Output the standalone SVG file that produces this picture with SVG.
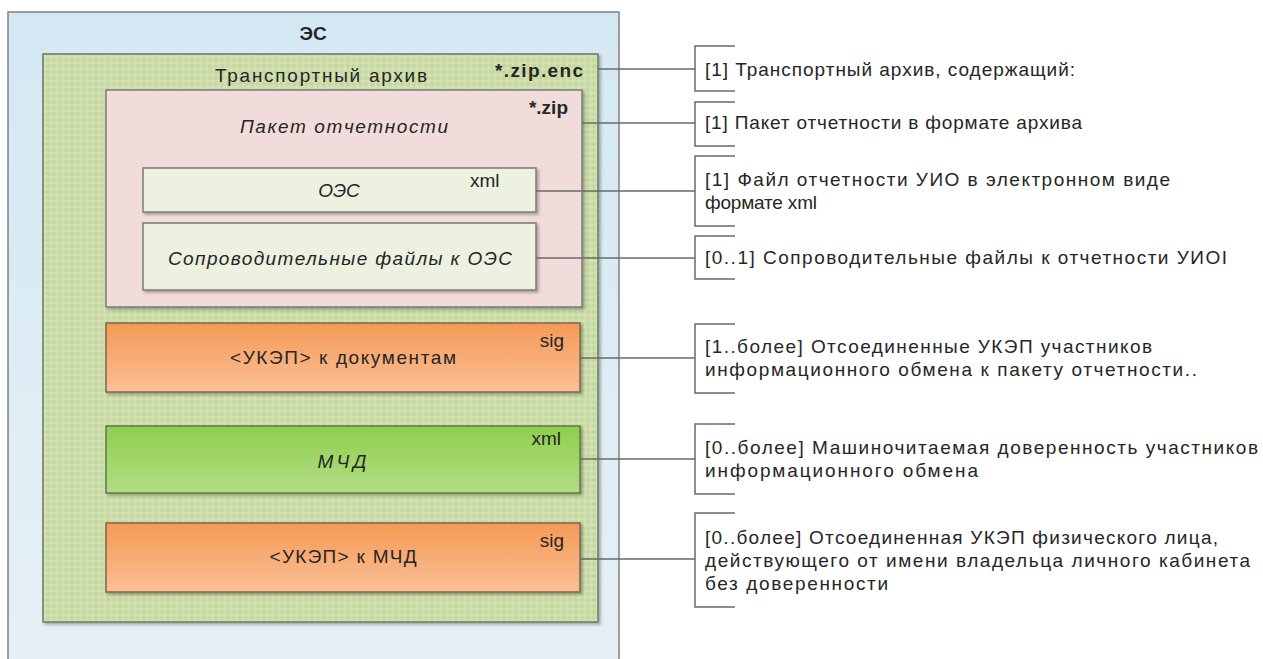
<svg xmlns="http://www.w3.org/2000/svg" width="1263" height="659" viewBox="0 0 1263 659">
<style>
text{font-family:"Liberation Sans",Arial,sans-serif;fill:#262626;font-size:19px}
.b{font-weight:bold}
.i{font-style:italic}
.m{text-anchor:middle}
.e{text-anchor:end}
.conn{stroke:#6a6a6a;stroke-width:1.5;fill:none}
.br{stroke:#6a6a6a;stroke-width:1.5;fill:none}
</style>
<defs>
<linearGradient id="gBlue" x1="0" y1="0" x2="0" y2="1"><stop offset="0" stop-color="#d4e8f3"/><stop offset="1" stop-color="#e6f0f6"/></linearGradient>
<linearGradient id="gOr" x1="0" y1="0" x2="0" y2="1"><stop offset="0" stop-color="#f59a55"/><stop offset="1" stop-color="#fbbf96"/></linearGradient>
<linearGradient id="gGr" x1="0" y1="0" x2="0" y2="1"><stop offset="0" stop-color="#8fcf4e"/><stop offset="1" stop-color="#b2dd86"/></linearGradient>
<pattern id="hatch" width="6" height="6" patternUnits="userSpaceOnUse">
<rect width="6" height="6" fill="#c5d8a0"/>
<path d="M0 3L3 0L6 3L3 6Z" fill="#d3e2b4"/>
</pattern>
<filter id="sh" x="-5%" y="-5%" width="110%" height="115%"><feDropShadow dx="2" dy="2" stdDeviation="1.5" flood-color="#000" flood-opacity="0.3"/></filter>
</defs>

<g id="es">
<rect x="8" y="12" width="611" height="660" fill="url(#gBlue)" stroke="#7f7f7f" stroke-width="1.5"/>
<text class="b m" x="313" y="40" font-size="22">ЭС</text>
</g>

<g id="transport">
<rect x="43" y="54" width="555" height="568" fill="url(#hatch)" stroke="#6b7a5e" stroke-width="1.5" filter="url(#sh)"/>
<text class="m" x="321" y="82" font-size="20" textLength="212" lengthAdjust="spacing">Транспортный архив</text>
<text class="b e" x="583" y="77" font-size="20" textLength="88" lengthAdjust="spacing">*.zip.enc</text>
</g>

<g id="paket">
<rect x="106" y="90" width="476" height="217" fill="#f2dcdb" stroke="#7a7a7a" stroke-width="1.5" filter="url(#sh)"/>
<text class="i m" x="344" y="133" font-size="20" textLength="208" lengthAdjust="spacing">Пакет отчетности</text>
<text class="b e" x="568" y="114" font-size="20">*.zip</text>
</g>

<g id="oes">
<rect x="143" y="168" width="393" height="44" fill="#ecf1e0" stroke="#7a7a7a" stroke-width="1.5" filter="url(#sh)"/>
<text class="i m" x="339" y="197" font-size="19">ОЭС</text>
<text x="470" y="187" font-size="19">xml</text>
</g>

<g id="soprov">
<rect x="143" y="223" width="393" height="67" fill="#ecf1e0" stroke="#7a7a7a" stroke-width="1.5" filter="url(#sh)"/>
<text class="i m" x="340" y="265" font-size="20" textLength="344" lengthAdjust="spacing">Сопроводительные файлы к ОЭС</text>
</g>

<g id="ukep-doc">
<rect x="106" y="323" width="474" height="69" fill="url(#gOr)" stroke="#7d6650" stroke-width="1.5" filter="url(#sh)"/>
<text class="m" x="343" y="364" font-size="20" textLength="226" lengthAdjust="spacing">&lt;УКЭП&gt; к документам</text>
<text class="e" x="564" y="347" font-size="20">sig</text>
</g>

<g id="mchd">
<rect x="106" y="426" width="474" height="67" fill="url(#gGr)" stroke="#5f7845" stroke-width="1.5" filter="url(#sh)"/>
<text class="i m" x="342" y="468" font-size="20" textLength="49" lengthAdjust="spacing">МЧД</text>
<text class="e" x="561" y="445" font-size="19">xml</text>
</g>

<g id="ukep-mchd">
<rect x="106" y="523" width="474" height="69" fill="url(#gOr)" stroke="#7d6650" stroke-width="1.5" filter="url(#sh)"/>
<text class="m" x="343" y="563" font-size="20" textLength="147" lengthAdjust="spacing">&lt;УКЭП&gt; к МЧД</text>
<text class="e" x="564" y="547" font-size="20">sig</text>
</g>

<g id="connectors">
<path class="conn" d="M598 69H695"/>
<path class="conn" d="M582 123H695"/>
<path class="conn" d="M536 191H695"/>
<path class="conn" d="M536 258H695"/>
<path class="conn" d="M580 358H695"/>
<path class="conn" d="M580 459H695"/>
<path class="conn" d="M580 559H695"/>
</g>

<g id="note1">
<path class="br" d="M735 46H695V91H735"/>
<text x="705" y="76" textLength="370" lengthAdjust="spacing">[1] Транспортный архив, содержащий:</text>
</g>
<g id="note2">
<path class="br" d="M735 102H695V146H735"/>
<text x="705" y="129" textLength="377" lengthAdjust="spacing">[1] Пакет отчетности в формате архива</text>
</g>
<g id="note3">
<path class="br" d="M735 156H695V226H735"/>
<text x="705" y="186" textLength="465" lengthAdjust="spacing">[1] Файл отчетности УИО в электронном виде</text>
<text x="705" y="209" textLength="112" lengthAdjust="spacing">формате xml</text>
</g>
<g id="note4">
<path class="br" d="M735 236H695V279H735"/>
<text x="705" y="264" textLength="522" lengthAdjust="spacing">[0..1] Сопроводительные файлы к отчетности  УИОI</text>
</g>
<g id="note5">
<path class="br" d="M735 324H695V393H735"/>
<text x="705" y="353" textLength="447" lengthAdjust="spacing">[1..более] Отсоединенные УКЭП участников</text>
<text x="705" y="376" textLength="492" lengthAdjust="spacing">информационного обмена к пакету отчетности..</text>
</g>
<g id="note6">
<path class="br" d="M735 424H695V494H735"/>
<text x="705" y="454" textLength="553" lengthAdjust="spacing">[0..более] Машиночитаемая доверенность участников</text>
<text x="705" y="477" textLength="273" lengthAdjust="spacing">информационного обмена</text>
</g>
<g id="note7">
<path class="br" d="M735 513H695V607H735"/>
<text x="705" y="544" textLength="513" lengthAdjust="spacing">[0..более] Отсоединенная УКЭП физического лица,</text>
<text x="705" y="567" textLength="545" lengthAdjust="spacing">действующего от имени владельца личного кабинета</text>
<text x="705" y="590" textLength="183" lengthAdjust="spacing">без доверенности</text>
</g>
</svg>
